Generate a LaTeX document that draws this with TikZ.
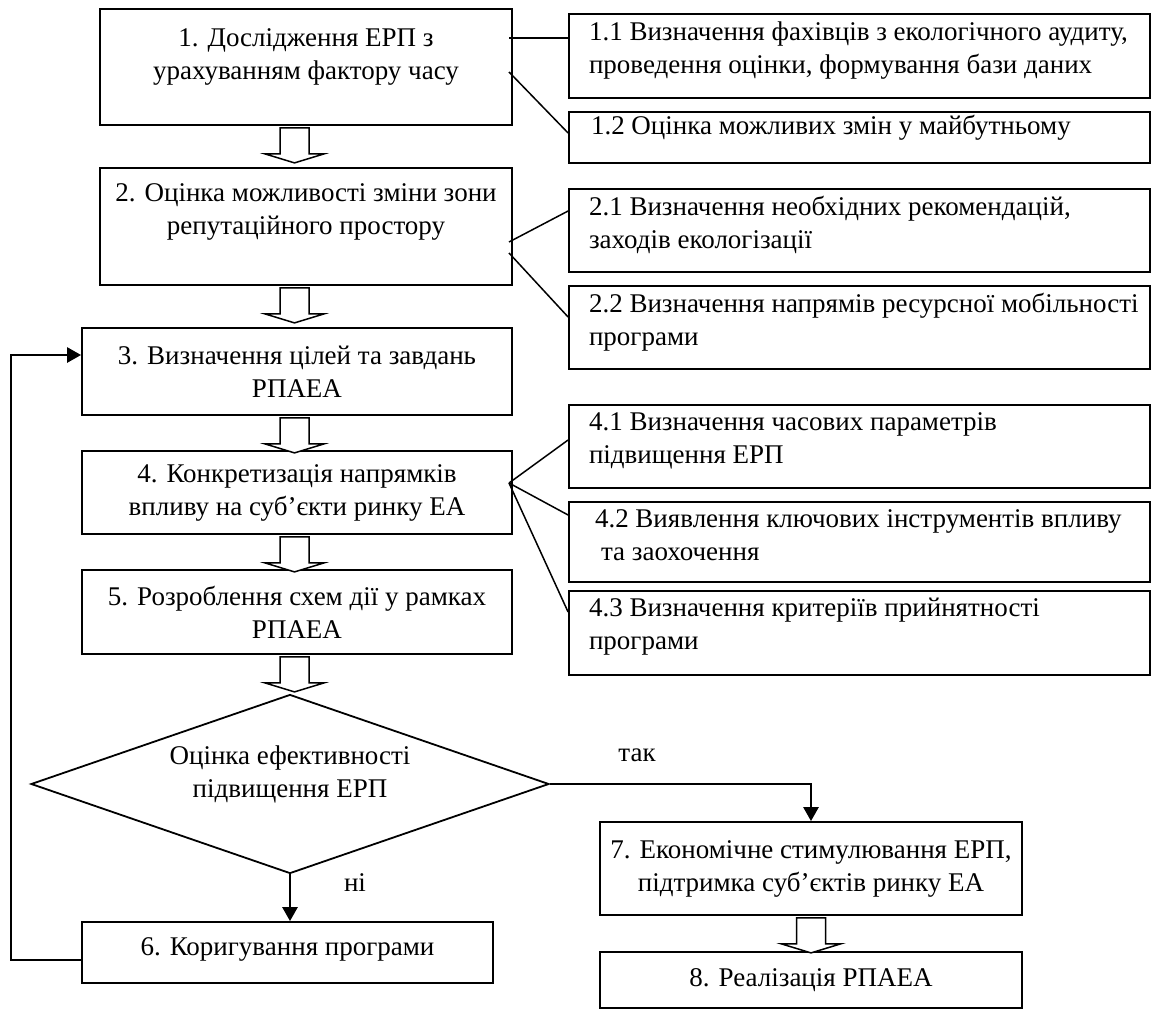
\documentclass[tikz,border=0pt]{standalone}
\usepackage{fontspec}
\setmainfont{Liberation Serif}
\usetikzlibrary{shapes.geometric,arrows.meta}
\tikzset{
  stepbox/.style={draw=black,line width=1.8pt,rectangle,inner sep=0pt,align=center},
  subbox/.style={draw=black,line width=1.8pt,rectangle,inner xsep=20pt,inner ysep=0pt,
    text width=541pt,align=flush left},
  decision/.style={draw=black,line width=1.8pt,diamond,shape aspect=2.9,inner sep=0pt,align=center},
  link/.style={line width=1.5pt},
  flow/.style={line width=2.6pt,-{Triangle[length=14pt,width=15pt]}},
  hollow/.style={draw=black,line width=1.5pt,fill=white,line join=miter}
}
% hollow block arrow hanging below a point
\newcommand{\blockarrow}[1]{%
  \draw[hollow] (#1) ++(-14.5,2) -- ++(29,0) -- ++(0,26) -- ++(15,0)
    -- ++(-29.5,9) -- ++(-29.5,-9) -- ++(15,0) -- cycle;}
\begin{document}
\begin{tikzpicture}[x=1pt,y=-1pt,font=\fontsize{27}{33}\selectfont]
\useasboundingbox (0,0) rectangle (1154,1012);
% main column
\node[stepbox,minimum width=412pt,minimum height=116pt,text depth=26pt] (b1) at (306,67)
  {1. Дослідження ЕРП з\\урахуванням фактору часу};
\node[stepbox,minimum width=412pt,minimum height=117pt,text depth=34pt] (b2) at (306,226.5)
  {2. Оцінка можливості зміни зони\\репутаційного простору};
\node[stepbox,minimum width=430pt,minimum height=87pt] (b3) at (297,371.5)
  {3. Визначення цілей та завдань\\РПАЕА};
\node[stepbox,minimum width=430pt,minimum height=83pt] (b4) at (297,492.5)
  {4. Конкретизація напрямків\\впливу на суб’єкти ринку ЕА};
\node[stepbox,minimum width=430pt,minimum height=84pt] (b5) at (297,612)
  {5. Розроблення схем дії у рамках\\РПАЕА};
\node[decision,minimum width=518pt,minimum height=179pt,text depth=24pt] (dec) at (290,784)
  {Оцінка ефективності\\підвищення ЕРП};
\node[stepbox,minimum width=411pt,minimum height=61pt,text depth=12pt] (b6) at (287.5,952.5)
  {6. Коригування програми};
\node[stepbox,minimum width=422pt,minimum height=93pt] (b7) at (811,868.5)
  {7. Економічне стимулювання ЕРП,\\підтримка суб’єктів ринку ЕА};
\node[stepbox,minimum width=422pt,minimum height=56pt] (b8) at (811,980)
  {8. Реалізація РПАЕА};
% side boxes
\node[subbox,minimum height=84pt,text depth=50pt] (r11) at (859.5,56)
  {\mbox{1.1 Визначення фахівців з екологічного аудиту,}\\\mbox{проведення оцінки, формування бази даних}};
\node[subbox,minimum height=51pt,text depth=26pt] (r12) at (859.5,137.5)
  {\mbox{\hspace{2pt}1.2 Оцінка можливих змін у майбутньому}};
\node[subbox,minimum height=83pt,text depth=49pt] (r21) at (859.5,230.5)
  {\mbox{2.1 Визначення необхідних рекомендацій,}\\заходів екологізації};
\node[subbox,minimum height=83pt,text depth=49pt] (r22) at (859.5,327.5)
  {\mbox{2.2 Визначення напрямів ресурсної мобільності}\\програми};
\node[subbox,minimum height=83pt,text depth=49pt] (r41) at (859.5,446.5)
  {\mbox{4.1 Визначення часових параметрів}\\підвищення ЕРП};
\node[subbox,minimum height=80pt,text depth=47pt] (r42) at (859.5,542)
  {\mbox{\hspace{6pt}4.2 Виявлення ключових інструментів впливу}\\\mbox{\hspace{12pt}та заохочення}};
\node[subbox,minimum height=84pt,text depth=51pt] (r43) at (859.5,633)
  {\mbox{4.3 Визначення критеріїв прийнятності}\\програми};
% answers
\node (yes) at (637,755) {так};
\node (no) at (355,883) {ні};
% hollow arrows down the main column
\coordinate (axis) at (294.5,0);
\blockarrow{b1.south -| axis}
\blockarrow{b2.south -| axis}
\blockarrow{b3.south -| axis}
\blockarrow{b4.south -| axis}
\blockarrow{b5.south -| axis}
\blockarrow{b7.south}
% links to the side boxes
\coordinate (f1a) at (509,38);
\coordinate (f1b) at (509,72);
\coordinate (f2a) at (509,242);
\coordinate (f2b) at (509,253);
\coordinate (f4) at (509,483);
\draw[link] (f1a) -- (f1a -| r11.west);
\draw[link] (f1b) -- ([yshift=4.5pt]r12.west);
\draw[link] (f2a) -- ([yshift=19.5pt]r21.west);
\draw[link] (f2b) -- ([yshift=10.5pt]r22.west);
\draw[link] (f4) -- ([yshift=6.5pt]r41.west);
\draw[link] (f4) -- ([yshift=27pt]r42.west);
\draw[link] (f4) -- ([yshift=21pt]r43.west);
% decision outlets and feedback
\draw[flow] (dec.south) -- (dec.south |- b6.north);
\draw[flow] (dec.east) -| (b7.north);
\draw[flow] ([yshift=-7.5pt]b6.west) -- ++(-70,0) |- ([yshift=16.5pt]b3.west);
\end{tikzpicture}
\end{document}
